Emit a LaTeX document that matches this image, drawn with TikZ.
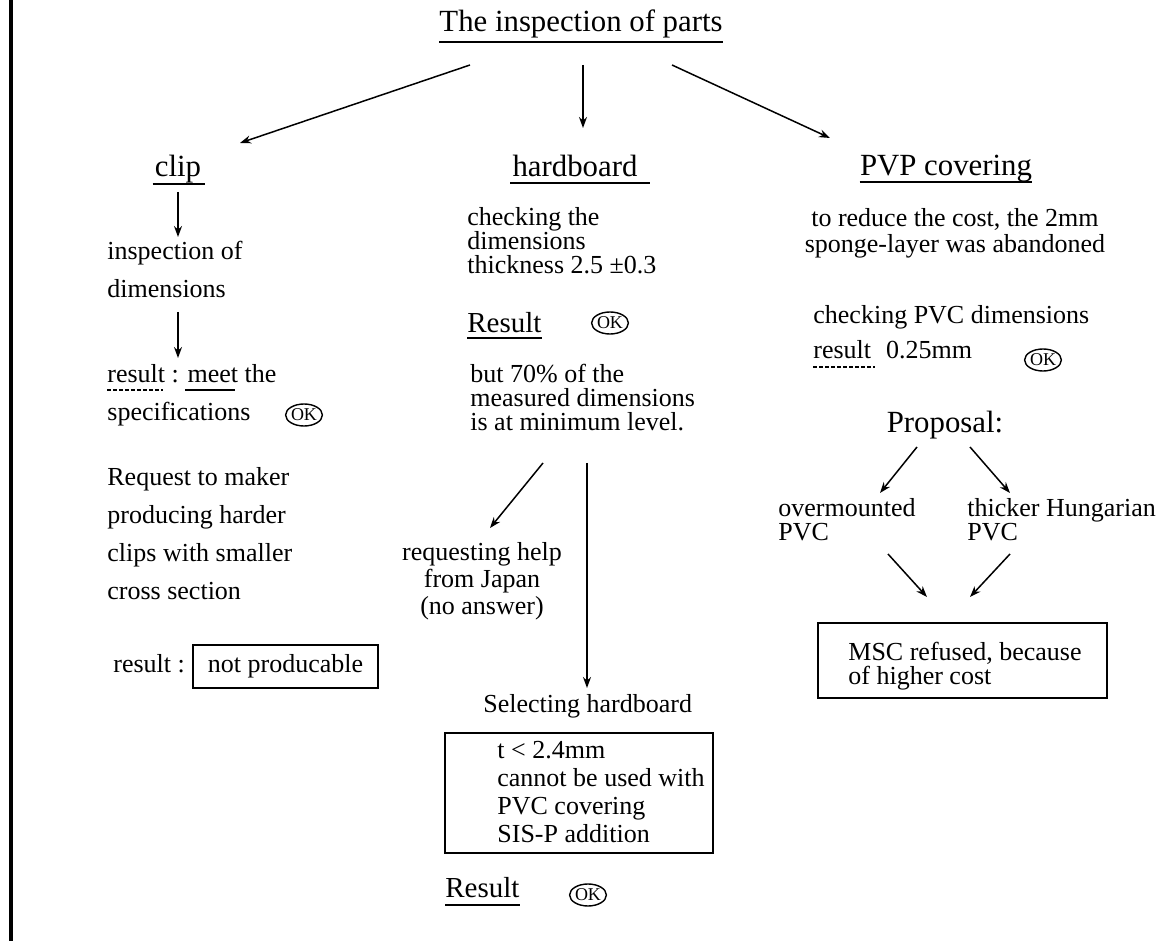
\documentclass[tikz,border=0pt]{standalone}
\usepackage{fontspec}
\setmainfont{Liberation Serif}
\usetikzlibrary{arrows.meta,shapes.geometric}
\begin{document}
\begin{tikzpicture}[x=0.5pt,y=-0.5pt,
  fs/.style n args={2}{font=\fontsize{#1}{#2}\selectfont},
  txt/.style={inner sep=0pt, fs={13}{19}},
  head/.style={inner sep=0pt, fs={15.4}{18}},
  okmark/.style={draw, ellipse, inner sep=0pt, minimum width=14.5pt, minimum height=11pt, line width=0.7pt, fs={9}{9}},
  arr/.style={-{Stealth[length=5.5pt,width=4pt]}, line width=0.75pt},
  uline/.style={line width=0.6pt},
  dline/.style={line width=0.6pt, dash pattern=on 2pt off 1pt},
  frame/.style={draw, line width=0.8pt, inner sep=0pt}]

\fill[white] (0,0) rectangle (1175,941);
\useasboundingbox (0,0) rectangle (1175,941);

% left margin rule
\draw[line width=2pt] (10.5,0) -- (10.5,941);

% title
\node[head,anchor=base] (title) at (581,32) {The inspection of parts};
\draw[uline] ([yshift=-5pt]title.base west) -- ([yshift=-5pt]title.base east);

% section headings
\node[head,anchor=base] (clip) at (178,177) {clip};
\draw[uline] ([xshift=-1pt,yshift=-3.5pt]clip.base west) -- ([xshift=2pt,yshift=-3.5pt]clip.base east);
\node[head,anchor=base] (hard) at (575,177) {hardboard};
\draw[uline] ([xshift=-1pt,yshift=-3pt]hard.base west) -- ([xshift=6pt,yshift=-3pt]hard.base east);
\node[head,anchor=base] (pvp) at (946,176) {PVP covering};
\draw[uline] ([yshift=-3pt]pvp.base west) -- ([yshift=-3pt]pvp.base east);

\coordinate (t1s) at (470,65);  \coordinate (t1e) at (240,143);
\coordinate (t2s) at (583,65);  \coordinate (t2e) at (583,128);
\coordinate (t3s) at (672,65);  \coordinate (t3e) at (830,138);
\draw[arr] (t1s) -- (t1e);
\draw[arr] (t2s) -- (t2e);
\draw[arr] (t3s) -- (t3e);

% ---- clip column (multi-line nodes are placed by the baseline of their last line)
\node[txt,anchor=base west,align=left] (insp) at (107,298) {inspection of\\dimensions};
\coordinate (c1s) at (178,192); \coordinate (c1e) at (178,237);
\coordinate (c2s) at (178,312); \coordinate (c2e) at (178,358);
\draw[arr] (c1s) -- (c1e);
\draw[arr] (c2s) -- (c2e);
\node[txt,anchor=base west] (res1) at (107,383) {result : meet the};
\draw[dline] ([yshift=-3.5pt]res1.base west) -- ++(28pt,0);
\draw[uline] ([xshift=39pt,yshift=-3.5pt]res1.base west) -- ++(25pt,0);
\node[txt,anchor=base west] (spec) at (107,421) {specifications};
\node[okmark] (ok1) at (304,415) {OK};
\node[txt,anchor=base west,align=left] (req) at (107,600) {Request to maker\\producing harder\\clips with smaller\\cross section};
\node[txt,anchor=base west] (res2) at (113,673) {result :};
\node[frame,txt,minimum width=92.5pt,minimum height=21.5pt] (np) at (285.5,666.5) {not producable};

% ---- hardboard column
\node[txt,anchor=base west,align=left,fs={13}{12}] (chk) at (467,274) {checking the\\dimensions\\thickness 2.5 ±0.3};
\node[txt,anchor=base west,fs={14.5}{16}] (res3) at (467,333) {Result};
\draw[uline] ([yshift=-2.5pt]res3.base west) -- ([yshift=-2.5pt]res3.base east);
\node[okmark] (ok2) at (610,323) {OK};
\node[txt,anchor=base west,align=left,fs={13}{12}] (but) at (470,431) {but 70\% of the\\measured dimensions\\is at minimum level.};
\coordinate (h1s) at (543,463); \coordinate (h1e) at (490,528);
\coordinate (h2s) at (587,463); \coordinate (h2e) at (587,688);
\draw[arr] (h1s) -- (h1e);
\draw[arr] (h2s) -- (h2e);
\node[txt,anchor=base,align=center,fs={13}{13.5}] (help) at (482,615) {requesting help\\from Japan\\(no answer)};
\node[txt,anchor=base west] (sel) at (483,712) {Selecting hardboard};
\node[frame,minimum width=134pt,minimum height=60pt] (tbox) at (579,793) {};
\node[txt,anchor=base west,align=left,fs={13}{14}] (tlines) at (497,842) {t < 2.4mm\\cannot be used with\\PVC covering\\SIS-P addition};
\node[txt,anchor=base west,fs={14.5}{16}] (res4) at (445,898) {Result};
\draw[uline] ([yshift=-3.5pt]res4.base west) -- ([yshift=-3.5pt]res4.base east);
\node[okmark] (ok4) at (588,895) {OK};

% ---- PVP covering column
\node[txt,anchor=base,align=center,fs={13}{13}] (reduce) at (955,253) {to reduce the cost, the 2mm\\sponge-layer was abandoned};
\node[txt,anchor=base west] (chkpvc) at (813,324) {checking PVC dimensions};
\node[txt,anchor=base west] (res5) at (813,359) {result\hspace*{7.5pt}0.25mm};
\draw[dline] ([yshift=-4pt]res5.base west) -- ++(31pt,0);
\node[okmark] (ok5) at (1043,360) {OK};
\node[head,anchor=base] (prop) at (945,433) {Proposal:};
\coordinate (p1s) at (917,447); \coordinate (p1e) at (880,493);
\coordinate (p2s) at (970,447); \coordinate (p2e) at (1010,493);
\draw[arr] (p1s) -- (p1e);
\draw[arr] (p2s) -- (p2e);
\node[txt,anchor=base west,align=left,fs={13}{12}] (over) at (778,541) {overmounted\\PVC};
\node[txt,anchor=base west,align=left,fs={13}{12}] (thick) at (967,541) {thicker Hungarian\\PVC};
\coordinate (m1s) at (888,554); \coordinate (m1e) at (927,597);
\coordinate (m2s) at (1010,554); \coordinate (m2e) at (970,597);
\draw[arr] (m1s) -- (m1e);
\draw[arr] (m2s) -- (m2e);
\node[frame,minimum width=144.5pt,minimum height=37.5pt] (msc) at (962.5,660.5) {};
\node[txt,anchor=base west,align=left,fs={13}{12.5}] (msctext) at (848,685) {MSC refused, because\\of higher cost};
\end{tikzpicture}
\end{document}
